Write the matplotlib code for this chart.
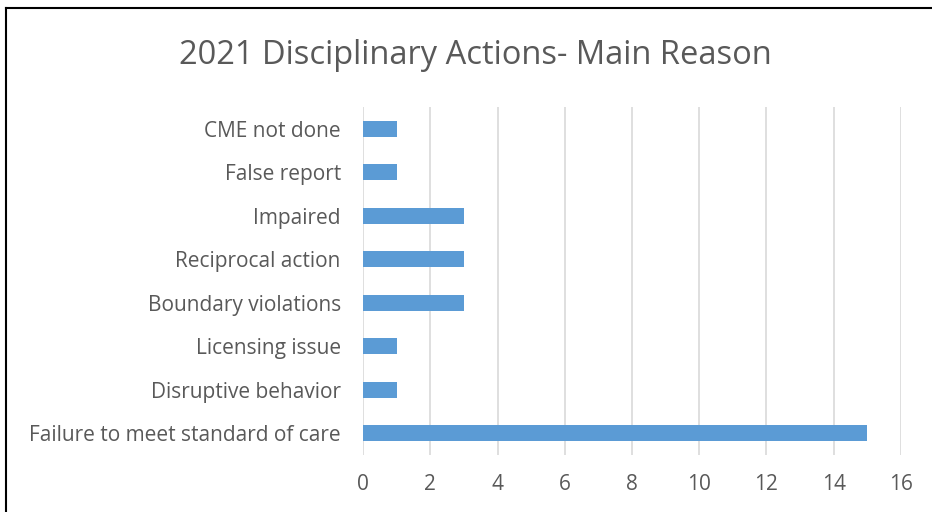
import matplotlib.pyplot as plt
from matplotlib.lines import Line2D

reasons = [
    "Failure to meet standard of care",
    "Disruptive behavior",
    "Licensing issue",
    "Boundary violations",
    "Reciprocal action",
    "Impaired",
    "False report",
    "CME not done",
]
counts = [15, 1, 1, 3, 3, 3, 1, 1]
x_ticks = [0, 2, 4, 6, 8, 10, 12, 14, 16]

text_color = "#595959"
plt.rcParams["font.family"] = ["Open Sans", "DejaVu Sans"]

fig = plt.figure(figsize=(9.32, 5.12), dpi=100)
ax = fig.add_axes([0.3895, 0.1113, 0.5772, 0.6797])

positions = list(range(len(reasons)))
ax.barh(positions, counts, height=0.36, color="#5b9bd5", zorder=3)

ax.set_xlim(0, 16)
ax.set_ylim(-0.5, len(reasons) - 0.5)
ax.set_xticks(x_ticks)
ax.set_xticklabels([str(t) for t in x_ticks])
ax.set_yticks(positions)
ax.set_yticklabels(reasons)
ax.tick_params(axis="both", length=0, colors=text_color, labelsize=15)
ax.tick_params(axis="x", pad=14)
ax.tick_params(axis="y", pad=16)
ax.grid(axis="x", color="#d9d9d9", linewidth=1.2, zorder=0)
for side in ["top", "right", "bottom", "left"]:
    ax.spines[side].set_visible(False)

fig.text(0.51, 0.891, "2021 Disciplinary Actions- Main Reason",
         ha="center", va="center", fontsize=23.5, color=text_color)

# outer frame (only left and top edges show in the crop)
fig.add_artist(Line2D([6 / 932, 6 / 932], [0, 1 - 8 / 512], color="black", linewidth=1.5))
fig.add_artist(Line2D([6 / 932, 1], [1 - 8 / 512, 1 - 8 / 512], color="black", linewidth=1.5))

fig.savefig("out.png", dpi=100)
